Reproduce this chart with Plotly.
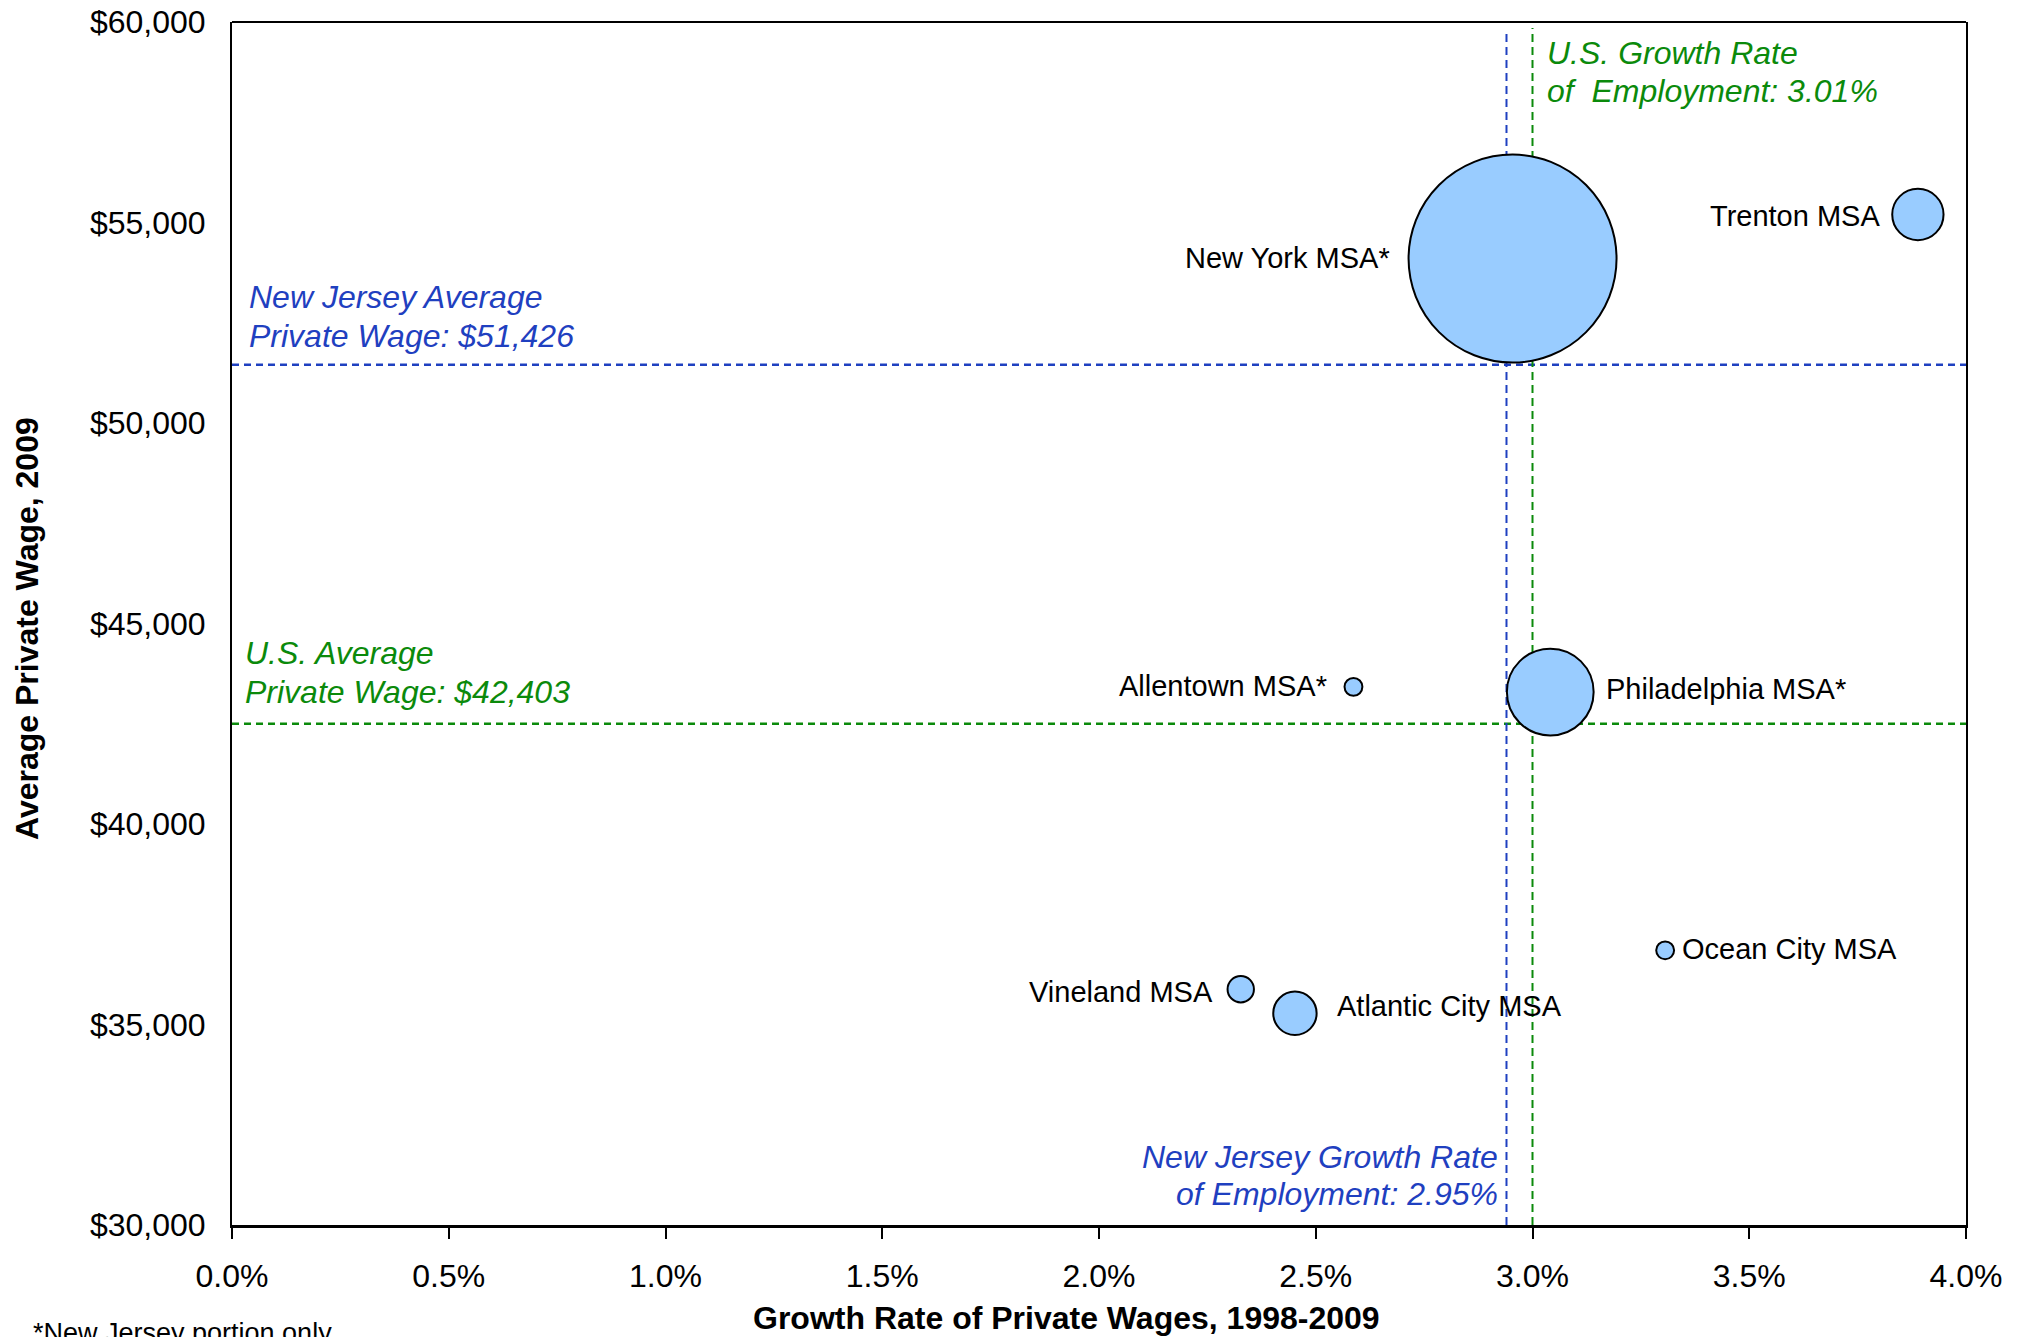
import plotly.graph_objects as go
import math

# ---------------- data ----------------
msa_names = ["New York MSA*", "Trenton MSA", "Allentown MSA*", "Philadelphia MSA*",
             "Ocean City MSA", "Vineland MSA", "Atlantic City MSA"]
wage_growth_pct = [2.954, 3.889, 2.587, 3.041, 3.306, 2.327, 2.452]
avg_wage_2009 = [54100, 55200, 43420, 43290, 36850, 35880, 35280]
employment_k = [2300, 140, 17, 400, 17, 37, 100]
label_side = ["left", "left", "left", "right", "right", "left", "right"]

nj_avg_wage = 51450
us_avg_wage = 42500
nj_growth_rate = 2.94
us_growth_rate = 3.00

x_ticks = [0.0, 0.5, 1.0, 1.5, 2.0, 2.5, 3.0, 3.5, 4.0]
y_ticks = [30000, 35000, 40000, 45000, 50000, 55000, 60000]

# ---------------- style ----------------
FONT = "Liberation Sans, Arial, sans-serif"
BLUE = "#1F40C0"
GREEN = "#0B8A0B"
BUBBLE = "#99CCFF"
W, H = 2019, 1337
ML, MR, MT, MB = 232, 53, 22, 112
PW, PH = W - ML - MR, H - MT - MB
MAX_D = 208
sizeref = 2.0 * max(employment_k) / (MAX_D ** 2)


def px_x(p):
    return (p - ML) / PW


def px_y(p):
    return (H - MB - p) / PH


fig = go.Figure()
fig.add_trace(go.Scatter(
    x=wage_growth_pct, y=avg_wage_2009, mode="markers",
    marker=dict(size=employment_k, sizemode="area", sizeref=sizeref,
                color=BUBBLE, opacity=1, line=dict(color="black", width=2)),
    hoverinfo="text", text=msa_names, showlegend=False, cliponaxis=False,
))

# bubble labels
gaps = [17, 10, 16, 10, 6, 13, 18]
yshifts = [1, -2, 1, 3, 1, -3, 7]
annotations = []
for name, xv, yv, emp, side, g, ys in zip(msa_names, wage_growth_pct, avg_wage_2009,
                                          employment_k, label_side, gaps, yshifts):
    r = math.sqrt(emp / 2.0 / sizeref)
    annotations.append(dict(
        x=xv, y=yv, xref="x", yref="y", text=name, showarrow=False,
        xanchor="right" if side == "left" else "left", yanchor="middle",
        xshift=-(r + g) if side == "left" else (r + g), yshift=ys,
        font=dict(family=FONT, size=29, color="black"),
    ))

# reference lines (below the bubbles)
dash_h = "7px,5px"
dash_v = "8px,5px"
shapes = [
    dict(type="line", xref="paper", yref="y", x0=0, x1=1, y0=nj_avg_wage, y1=nj_avg_wage,
         line=dict(color=BLUE, width=2.5, dash=dash_h), layer="below"),
    dict(type="line", xref="paper", yref="y", x0=0, x1=1, y0=us_avg_wage, y1=us_avg_wage,
         line=dict(color=GREEN, width=2.5, dash=dash_h), layer="below"),
    dict(type="line", xref="x", yref="paper", x0=nj_growth_rate, x1=nj_growth_rate, y0=0, y1=0.99,
         line=dict(color=BLUE, width=2, dash=dash_v), layer="below"),
    dict(type="line", xref="x", yref="paper", x0=us_growth_rate, x1=us_growth_rate, y0=0, y1=0.995,
         line=dict(color=GREEN, width=2, dash=dash_v), layer="below"),
    dict(type="line", xref="paper", yref="paper", x0=0, x1=1, y0=1, y1=1,
         line=dict(color="black", width=2)),
]

ital = dict(family=FONT, size=32)


def note(text, color, xpx, ypx, anchor="left"):
    return dict(xref="paper", yref="paper", x=px_x(xpx), y=px_y(ypx), xanchor=anchor,
                yanchor="middle", showarrow=False, text=f"<i>{text}</i>",
                font=dict(ital, color=color))


annotations += [
    note("New Jersey Average", BLUE, 247, 297),
    note("Private Wage: $51,426", BLUE, 247, 336),
    note("U.S. Average", GREEN, 243, 653),
    note("Private Wage: $42,403", GREEN, 243, 692),
    note("U.S. Growth Rate", GREEN, 1545, 53),
    note("of  Employment: 3.01%", GREEN, 1545, 91),
    note("New Jersey Growth Rate", BLUE, 1500, 1157, "right"),
    note("of Employment: 2.95%", BLUE, 1500, 1194, "right"),
    # axis titles
    dict(xref="paper", yref="paper", x=px_x(1066), y=px_y(1318), xanchor="center", yanchor="middle",
         showarrow=False, text="<b>Growth Rate of Private Wages, 1998-2009</b>",
         font=dict(family=FONT, size=32, color="black")),
    dict(xref="paper", yref="paper", x=px_x(27), y=px_y(629), xanchor="center", yanchor="middle",
         showarrow=False, textangle=-90, text="<b>Average Private Wage, 2009</b>",
         font=dict(family=FONT, size=32, color="black")),
    # footnote (cut by the bottom edge, as in the reference)
    dict(xref="paper", yref="paper", x=px_x(31), y=px_y(1333), xanchor="left", yanchor="middle",
         showarrow=False, text="*New Jersey portion only",
         font=dict(family=FONT, size=27, color="black")),
]

fig.update_layout(
    template="none",
    width=W, height=H,
    margin=dict(l=ML, r=MR, t=MT, b=MB, pad=0, autoexpand=False),
    paper_bgcolor="white", plot_bgcolor="white",
    font=dict(family=FONT, color="black"),
    shapes=shapes, annotations=annotations,
    xaxis=dict(range=[0, 4], tickvals=x_ticks, ticktext=[f"{v:.1f}%" for v in x_ticks],
               showgrid=False, zeroline=False, showline=True, linecolor="black", linewidth=3,
               ticks="outside", ticklen=11, tickwidth=2, tickcolor="black",
               tickfont=dict(family=FONT, size=32, color="black"), ticklabelstandoff=10,
               mirror=False, automargin=False),
    yaxis=dict(range=[30000, 60000], tickvals=y_ticks, ticktext=[f"${v:,}" for v in y_ticks],
               showgrid=False, zeroline=False, showline=True, linecolor="black", linewidth=2,
               ticks="", tickfont=dict(family=FONT, size=32, color="black"),
               ticklabelstandoff=18, mirror=True, automargin=False),
)

fig.write_html("out.html", config={"displayModeBar": False},
               post_script="document.body.style.margin='0';")
